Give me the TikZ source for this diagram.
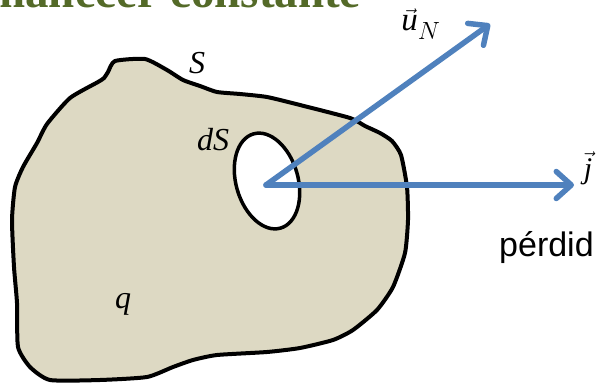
\documentclass[tikz,border=0pt]{standalone}
\usepackage{amsmath}
\usepackage{fontspec}
\setmainfont{Liberation Serif}
\newfontfamily\arialfont{Liberation Sans}
\usetikzlibrary{arrows.meta,positioning}
\definecolor{titlegreen}{RGB}{84,106,40}
\definecolor{sandfill}{RGB}{221,217,195}
\definecolor{vecblue}{RGB}{79,129,189}
\tikzset{
  vecarrow/.style={draw=vecblue, line width=5.5pt, line cap=round,
    -{Straight Barb[length=15pt, width=27pt, line cap=round, line join=round]}},
  lbl/.style={inner sep=0pt, font=\fontsize{32}{34}\selectfont}
}
\begin{document}
\begin{tikzpicture}[x=1pt, y=-1pt]
    \useasboundingbox (0,0) rectangle (599,387);
    \node (title) [anchor=base east, inner sep=0pt, text=titlegreen, font=\fontsize{47}{50}\selectfont\bfseries] at (361,8) {permanecer constante};

    \draw[line width=4pt, fill=sandfill, line join=round] plot[smooth cycle, tension=0.35] coordinates {
      (115,61) (145,59) (167,70) (183,80) (200,86) (217,92) (240,94) (267,97) (300,105) (350,118)
      (365,126) (380,133) (392,141) (401,155) (407,187) (408,220) (405,253) (393,287) (377,310)
      (353,330) (333,340) (300,348) (267,352) (217,355) (193,360) (173,367) (147,377) (100,380)
      (50,380) (30,367) (18,347) (17,303) (14,267) (12,220) (15,187) (23,167) (37,143) (47,124)
      (70,98) (98,82) (104,78) (108,72)};
    \draw[line width=3.5pt, fill=white, rotate around={16:(267,181)}] (267,181) ellipse [x radius=31pt, y radius=49pt];

    \node (surf) [lbl] at (197,63) {\textit{S}};
    \node (dsurf) [lbl] at (213,140) {\textit{dS}};
    \node (charge) [lbl] at (123,304) {\textit{q}};
    \node (normal) [inner sep=0pt, font=\fontsize{33}{35}\selectfont] at (421,24) {$\vec{\textit{u}}_{\scriptstyle N}$};
    \node (flux) [inner sep=0pt, font=\fontsize{30}{32}\selectfont] at (588,168) {$\vec{\textit{j}}$};
    \node (loss) [anchor=base west, inner sep=0pt, font=\arialfont\fontsize{34}{36}\selectfont] at (499,256) {pérdid};

    \coordinate (o) at (266,185);
    \coordinate (normaltip) at (490,24);
    \coordinate (fluxtip) at (574,185);
    \draw[vecarrow] (o) -- (normaltip);
    \draw[vecarrow] (o) -- (fluxtip);
\end{tikzpicture}
\end{document}
